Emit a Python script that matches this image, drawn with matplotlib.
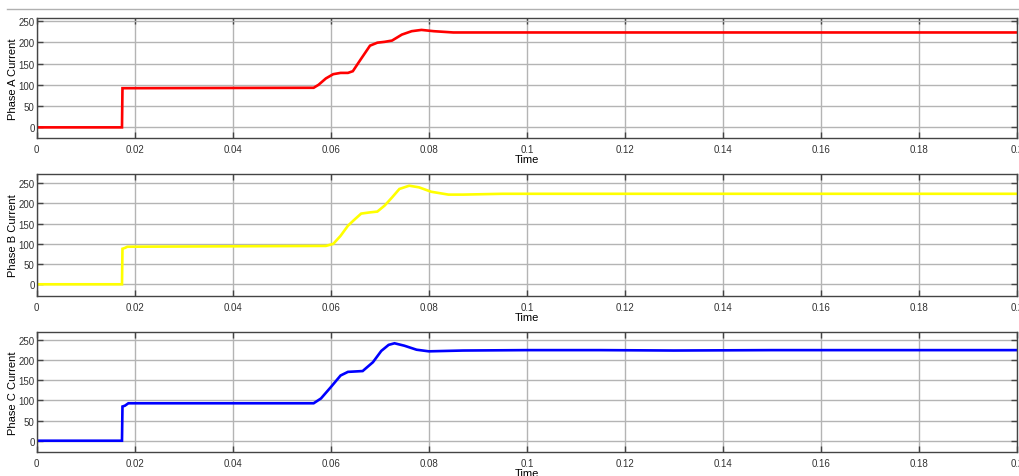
import numpy as np
import matplotlib
matplotlib.use("Agg")
import matplotlib.pyplot as plt
from matplotlib.lines import Line2D

plt.rcParams["font.family"] = ["Liberation Sans", "DejaVu Sans"]

# 三相电流 (scope 读数)
t_a = [0, 0.0174, 0.0175, 0.0565, 0.0575, 0.0590, 0.0605, 0.0620, 0.0635, 0.0645,
       0.0660, 0.0680, 0.0695, 0.0710, 0.0725, 0.0745, 0.0765, 0.0785, 0.0810,
       0.0850, 0.0900, 0.2]
i_a = [0, 0, 92, 93, 100, 115, 125, 128, 128, 132,
       158, 192, 199, 201, 204, 218, 226, 229, 226,
       223, 223, 223]

t_b = [0, 0.0174, 0.0175, 0.0180, 0.0185, 0.0590, 0.0605, 0.0620, 0.0635, 0.0650,
       0.0662, 0.0680, 0.0695, 0.0710, 0.0725, 0.0740, 0.0760, 0.0780, 0.0805,
       0.0840, 0.0870, 0.0950, 0.2]
i_b = [0, 0, 88, 90, 93, 95, 100, 120, 145, 162,
       175, 178, 180, 195, 215, 236, 244, 240, 229,
       222, 222, 224, 224]

t_c = [0, 0.0174, 0.0175, 0.0180, 0.0187, 0.0565, 0.0580, 0.0600, 0.0620, 0.0635,
       0.0650, 0.0665, 0.0686, 0.0703, 0.0718, 0.0730, 0.0750, 0.0775, 0.0800,
       0.0870, 0.1000, 0.1150, 0.1300, 0.1500, 0.2]
i_c = [0, 0, 85, 87, 93, 93, 105, 133, 162, 171,
       172, 173, 195, 223, 238, 242, 236, 226, 222,
       224, 225, 225, 224, 225, 225]

labels = ["Phase A Current", "Phase B Current", "Phase C Current"]
colors = ["#ff0000", "#ffff00", "#0000ff"]
xticks = np.arange(0, 0.2001, 0.02)
xticklabels = ["0", "0.02", "0.04", "0.06", "0.08", "0.1", "0.12", "0.14", "0.16", "0.18", "0.2"]
yticks = [0, 50, 100, 150, 200, 250]

W, H = 1019, 477
fig = plt.figure(figsize=(W / 100, H / 100), dpi=100)

# 各子图 (top, bottom, ymin, ymax), 像素
boxes = [(19, 139, -25, 257), (175, 297, -29, 273), (333, 453, -28, 270)]
series = [(t_a, i_a), (t_b, i_b), (t_c, i_c)]

x0, x1 = 36.7, 1017
for (top, bot, ylo, yhi), (t, i), lab, c in zip(boxes, series, labels, colors):
    h = bot - top
    ax = fig.add_axes([x0 / W, 1 - bot / H, (x1 - x0) / W, h / H])
    ax.plot(t, i, color=c, lw=1.9, solid_joinstyle="miter")
    ax.set_xlim(0, 0.2)
    ax.set_ylim(ylo, yhi)
    ax.set_xticks(xticks)
    ax.set_xticklabels(xticklabels)
    ax.set_yticks(yticks)
    ax.grid(True, color="#b4b4b4", lw=1.0)
    ax.set_axisbelow(True)
    ax.tick_params(direction="in", length=4, width=1, color="#444444",
                   labelsize=7, labelcolor="#333333", top=True, right=True)
    ax.tick_params(axis="x", pad=4)
    ax.tick_params(axis="y", pad=1.5)
    for s in ax.spines.values():
        s.set_color("#444444")
        s.set_linewidth(1.0)
    ax.set_ylabel(lab, fontsize=8)
    ax.yaxis.set_label_coords(-19 / (x1 - x0), 0.5)
    ax.set_xlabel("Time", fontsize=8)
    ax.xaxis.set_label_coords(0.5, -16 / h)

# 顶部分隔线
fig.add_artist(Line2D([7 / W, 1], [1 - 10 / H, 1 - 10 / H], color="#b0b0b0", lw=1))

fig.savefig("out.png", dpi=100)
